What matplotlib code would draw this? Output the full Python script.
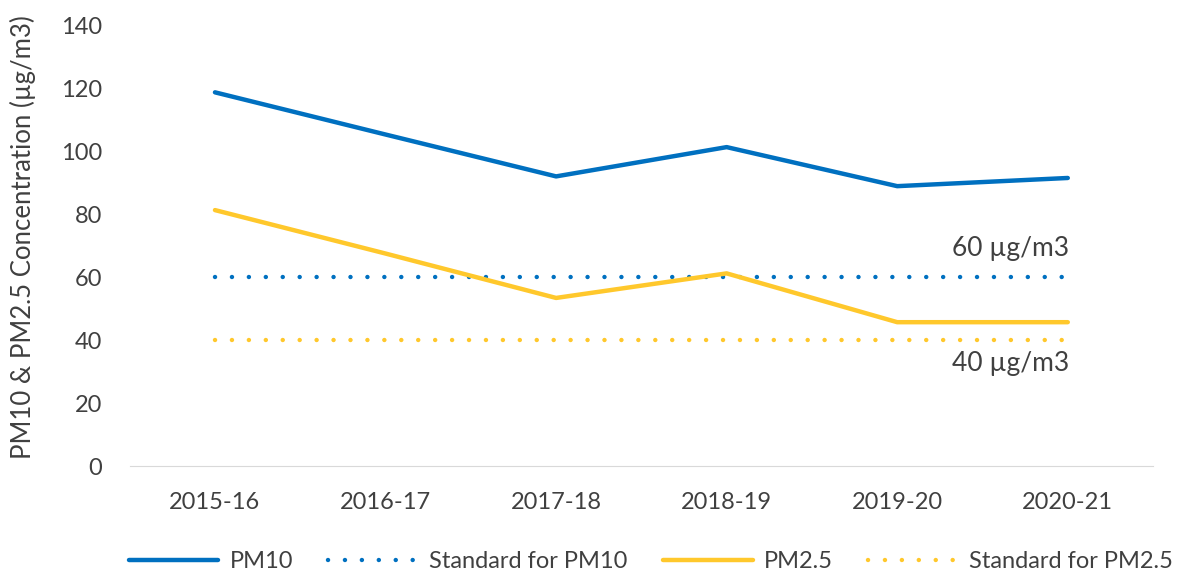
import matplotlib.pyplot as plt

plt.rcParams['font.family'] = ['Lato', 'DejaVu Sans']

years = ["2015-16", "2016-17", "2017-18", "2018-19", "2019-20", "2020-21"]
pm10 = [118.7, 105.3, 92.0, 101.3, 88.9, 91.5]
pm25 = [81.3, 67.5, 53.4, 61.2, 45.7, 45.7]
std_pm10 = [60] * 6
std_pm25 = [40] * 6

blue = "#0070C0"
yellow = "#FFC82C"
grey = "#404040"

fig = plt.figure(figsize=(11.79, 5.74), dpi=100)
ax = fig.add_axes([0.110, 0.188, 0.868, 0.768])

x = range(len(years))
ax.plot(x, pm10, color=blue, lw=3.2, solid_capstyle="round", label="PM10")
ax.plot(x, std_pm10, color=blue, lw=3.2, linestyle=(0, (0.01, 3.8)), dash_capstyle="round",
        label="Standard for PM10")
ax.plot(x, pm25, color=yellow, lw=3.2, solid_capstyle="round", label="PM2.5")
ax.plot(x, std_pm25, color=yellow, lw=3.2, linestyle=(0, (0.01, 3.8)), dash_capstyle="round",
        label="Standard for PM2.5")

ax.text(5.01, 69.0, "60 µg/m3", ha="right", va="center", fontsize=19, color=grey)
ax.text(5.01, 32.7, "40 µg/m3", ha="right", va="center", fontsize=19, color=grey)

ax.set_xlim(-0.5, 5.5)
ax.set_ylim(0, 140)
ax.set_yticks(range(0, 141, 20))
ax.set_xticks(list(x))
ax.set_xticklabels(years)
ax.tick_params(axis="both", length=0, labelsize=17, colors=grey)
ax.tick_params(axis="x", pad=19)
ax.tick_params(axis="y", pad=20)
for s in ["top", "right", "left"]:
    ax.spines[s].set_visible(False)
ax.spines["bottom"].set_color("#D9D9D9")
ax.set_ylabel("PM10 & PM2.5 Concentration (µg/m3)", fontsize=18.5, color=grey)
ax.yaxis.set_label_coords(-0.092, 0.52)

fig.legend(loc="center", bbox_to_anchor=(0.552, 0.021), ncol=4, frameon=False,
           fontsize=17, handlelength=3.8, columnspacing=1.5, handletextpad=0.47,
           labelcolor=grey, borderaxespad=0, borderpad=0)

fig.savefig("out.png", dpi=100, facecolor="white")
